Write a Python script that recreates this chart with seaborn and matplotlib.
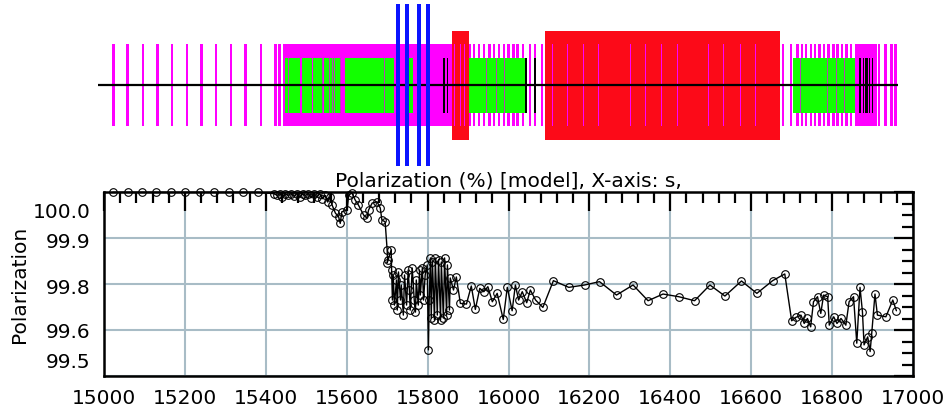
import numpy as np
import pandas as pd
import matplotlib
matplotlib.use("Agg")
import matplotlib.pyplot as plt
import matplotlib.transforms as mtransforms
import seaborn as sns

sns.set_theme(style="white")
plt.rcParams["font.family"] = ["DejaVu Sans"]
plt.rcParams["text.color"] = "black"
plt.rcParams["axes.labelcolor"] = "black"

# ---- polarization data (s in m, polarization in %) ----
s_pos = [15022, 15059, 15094, 15129, 15166, 15200, 15238, 15272, 15309, 15344, 15381,
         15420, 15428, 15435, 15441, 15448, 15455, 15462, 15470, 15477, 15484, 15491,
         15498, 15505, 15512, 15519, 15526, 15533, 15540, 15547, 15553, 15558,
         15564, 15572, 15580, 15584, 15588, 15601, 15605, 15613, 15621, 15629, 15642,
         15650, 15654, 15663, 15675, 15683, 15687, 15695, 15700, 15701, 15700, 15710,
         15711, 15713, 15715, 15718, 15723, 15725, 15728, 15733, 15735, 15740, 15743, 15748,
         15752, 15755, 15757, 15762, 15767, 15770, 15772, 15777, 15780, 15782, 15787,
         15790, 15794, 15799, 15802, 15804, 15807, 15809, 15812, 15817, 15819, 15824,
         15827, 15832, 15834, 15839, 15842, 15847, 15849, 15854, 15856, 15864, 15871,
         15881, 15896, 15908, 15918, 15929, 15939, 15949, 15960, 15972, 15987, 15997,
         16009, 16017, 16025, 16034, 16045, 16054, 16067, 16085, 16111, 16149, 16188,
         16225, 16267, 16308, 16345, 16382, 16421, 16460, 16498, 16535, 16576, 16614,
         16653, 16683, 16700, 16710, 16723, 16731, 16739, 16747, 16754, 16764, 16772,
         16779, 16789, 16793, 16804, 16812, 16822, 16834, 16842, 16853, 16861, 16869,
         16875, 16879, 16888, 16894, 16898, 16906, 16912, 16933, 16950, 16959]
polarization = [100.024, 100.024, 100.024, 100.024, 100.024, 100.024, 100.024, 100.024, 100.024, 100.024, 100.024,
                100.020, 100.015, 100.020, 100.010, 100.020, 100.015, 100.020, 100.012, 100.020, 100.010, 100.020,
                100.015, 100.020, 100.008, 100.018, 100.010, 100.020, 100.005, 100.015, 99.995, 100.010,
                99.986, 99.962, 99.951, 99.931, 99.966, 99.971, 100.016, 100.022, 100.001, 99.986, 99.956,
                99.947, 99.971, 99.992, 99.996, 99.977, 99.941, 99.936, 99.852, 99.822, 99.813, 99.852,
                99.792, 99.702, 99.777, 99.687, 99.762, 99.672, 99.786, 99.702, 99.747, 99.657, 99.777,
                99.687, 99.792, 99.732, 99.672, 99.798, 99.702, 99.666, 99.762, 99.687, 99.792, 99.717,
                99.798, 99.702, 99.777, 99.807, 99.553, 99.702, 99.828, 99.648, 99.816, 99.642, 99.828,
                99.657, 99.822, 99.642, 99.816, 99.648, 99.828, 99.657, 99.807, 99.672, 99.768, 99.732,
                99.771, 99.692, 99.690, 99.744, 99.674, 99.737, 99.727, 99.742, 99.697, 99.722, 99.644,
                99.740, 99.670, 99.747, 99.702, 99.727, 99.694, 99.732, 99.702, 99.680, 99.760, 99.740,
                99.747, 99.757, 99.717, 99.747, 99.700, 99.720, 99.712, 99.700, 99.747, 99.714, 99.759,
                99.722, 99.760, 99.780, 99.640, 99.650, 99.657, 99.632, 99.647, 99.622, 99.697, 99.712,
                99.662, 99.717, 99.712, 99.627, 99.652, 99.632, 99.647, 99.627, 99.697, 99.712, 99.573,
                99.740, 99.667, 99.568, 99.592, 99.548, 99.603, 99.720, 99.657, 99.652, 99.702, 99.670]

# ---- lattice layout (s positions) ----
mag_bar_s = [15038, 15074, 15112, 15149, 15185, 15222, 15259, 15295, 15332, 15369, 15407, 15443, 15453,
             15930, 15940, 15952, 15965, 15978, 15990, 16002, 16015, 16026, 16038, 16048, 16062, 16080,
             16092, 16110, 16712, 16732, 16748, 16760, 16770, 16782, 16792, 16804, 16815, 16826, 16838,
             16848, 16860, 16871, 16882, 16952, 16969, 16983, 16994]
mag_block_start = [15463, 16892]
mag_block_end = [15885, 16948]
green_start = [15467, 15510, 15537, 15564, 15618, 15777, 15925, 16737]
green_end = [15505, 15534, 15561, 15607, 15740, 15788, 16067, 16892]
thin_s = [15477, 15562, 15578, 15585, 15592, 15605, 15717, 15972, 15995, 16017, 16755, 16823, 16845, 16867]
black_s = [15865, 15874, 16070, 16092, 16905, 16913, 16918, 16922, 16928, 16936]
red_start = [15885, 16117]
red_end = [15927, 16705]
red_line_s = [15892, 15905, 15915, 16136, 16173, 16213, 16251, 16331, 16368, 16408, 16448, 16526,
              16563, 16606, 16643]
blue_s = [15750, 15772, 15802, 15825]

# half heights of layout elements
mag_h, green_h, red_h, blue_h = 41, 27.5, 54.5, 81

MAGENTA = "#ff00ff"
GREEN = "#12ff00"
RED = "#fc0a18"
BLUE = "#0a14ff"

fig = plt.figure(figsize=(9.51, 4.16), dpi=100)

# layout panel
ax0 = fig.add_axes([98 / 951, (416 - 170) / 416, 800 / 951, 170 / 416])
ax0.set_xlim(15000, 17000)
ax0.set_ylim(-85, 85)
ax0.axis("off")

def blocks(ax, start, end, h, color, z):
    start = np.array(start)
    width = np.array(end) - start
    ax.bar(start, 2 * h, width=width, bottom=-h, align="edge", color=color, linewidth=0, zorder=z)

ax0.bar(mag_bar_s, 2 * mag_h, width=6.5, bottom=-mag_h, color=MAGENTA, linewidth=0, zorder=1)
blocks(ax0, mag_block_start, mag_block_end, mag_h, MAGENTA, 1)
blocks(ax0, green_start, green_end, green_h, GREEN, 2)
ax0.bar(thin_s, 2 * green_h, width=2.5, bottom=-green_h, color="#b048b0", linewidth=0, zorder=3)
ax0.bar(black_s, 2 * green_h, width=3.5, bottom=-green_h, color="black", linewidth=0, zorder=4)
blocks(ax0, red_start, red_end, red_h, RED, 5)
ax0.bar(red_line_s, 2 * mag_h, width=2.5, bottom=-mag_h, color=MAGENTA, linewidth=0, zorder=6)
ax0.axhline(0, color="black", lw=1.6, zorder=7)
ax0.bar(blue_s, 2 * blue_h, width=10, bottom=-blue_h, color=BLUE, linewidth=0, zorder=8)

# polarization panel
ax = fig.add_axes([104 / 951, (416 - 376) / 416, 809 / 951, 184 / 416])
df = pd.DataFrame({"s": s_pos, "pol": polarization})
sns.lineplot(data=df, x="s", y="pol", ax=ax, sort=False, estimator=None, color="black", lw=1.0,
             marker="o", markersize=5.5, markerfacecolor="none", markeredgecolor="black",
             markeredgewidth=0.8, clip_on=False, zorder=5)

ax.set_xlim(15000, 17000)
ax.set_ylim(99.475, 100.025)
xt = np.arange(15000, 17001, 200)
ax.set_xticks(xt)
ax.set_xticklabels([str(v) for v in xt])
ax.set_xticks(np.arange(15000, 17001, 40), minor=True)
yt = np.linspace(99.475, 100.025, 5)
ax.set_yticks(yt)
ax.set_yticklabels(["99.5", "99.6", "99.8", "99.9", "100.0"])
ax.set_yticks(np.linspace(99.475, 100.025, 17), minor=True)

ax.grid(True, which="major", color="#a8bcc6", lw=1.5, zorder=0)
ax.set_axisbelow(True)
ax.tick_params(which="both", direction="in", top=True, right=True, width=1.6, colors="black",
               labelsize=14.5)
ax.tick_params(which="major", length=14, pad=9.5)
ax.tick_params(which="minor", length=8)
for sp in ax.spines.values():
    sp.set_linewidth(1.8)
    sp.set_color("black")

# y labels sit a bit below their ticks, end labels pulled inside the frame
shifts = [14, -3, -4, -4, -20]
for tick, dy in zip(ax.yaxis.get_major_ticks(), shifts):
    tick.label1.set_va("center")
    tick.label1.set_transform(tick.label1.get_transform() +
                              mtransforms.ScaledTranslation(0, dy / 100, fig.dpi_scale_trans))

ax.set_xlabel("")
ax.set_ylabel("Polarization", fontsize=14.5, va="center", color="black")
ax.yaxis.set_label_coords(-0.105, 0.5)
ax.text(0.5, 1.0326, "Polarization (%) [model], X-axis: s,", transform=ax.transAxes,
        ha="center", va="baseline", fontsize=14.5, color="black")

fig.savefig("out.png", dpi=100)
